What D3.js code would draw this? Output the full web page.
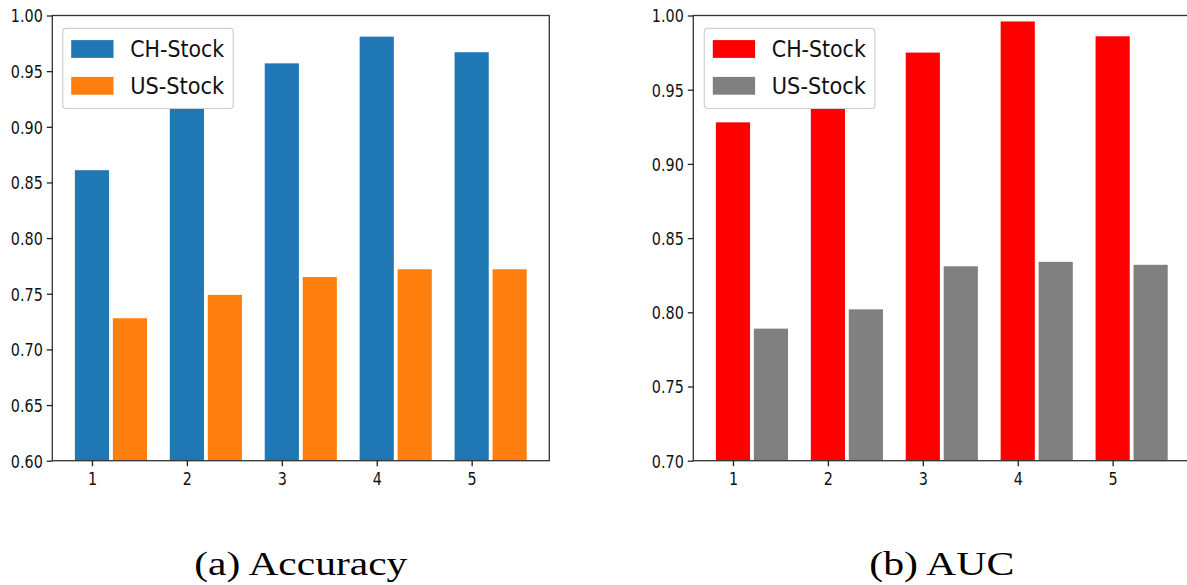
<!DOCTYPE html>
<html>
<head>
<meta charset="utf-8">
<script src="https://cdn.jsdelivr.net/npm/d3@7"></script>
<style>
  html, body { margin: 0; padding: 0; background: #fff; }
  svg { display: block; }
  .tick text { font-family: "DejaVu Sans", sans-serif; }
</style>
</head>
<body>
<svg id="fig" width="1187" height="585"></svg>
<script>
// Runs on the x axis
const runs = [1, 2, 3, 4, 5];
const seriesNames = ["CH-Stock", "US-Stock"];

// (a) Accuracy per run
const accCH = [0.861, 0.935, 0.957, 0.981, 0.967];
const accUS = [0.728, 0.749, 0.765, 0.772, 0.772];

// (b) AUC per run
const aucCH = [0.928, 0.955, 0.975, 0.996, 0.986];
const aucUS = [0.789, 0.802, 0.831, 0.834, 0.832];

// Axis ticks
const accTicks = [0.60, 0.65, 0.70, 0.75, 0.80, 0.85, 0.90, 0.95, 1.00];
const aucTicks = [0.70, 0.75, 0.80, 0.85, 0.90, 0.95, 1.00];

const captions = ["(a) Accuracy", "(b) AUC"];

const svg = d3.select("#fig");
const barW = 0.36, offset = 0.4;
const xDomain = [0.582, 5.818];
const TEXT_SQUEEZE = 0.82;

function panel(opts) {
  const { left, right, top, bottom, yDomain, ticks, ch, us, colors, legendX, caption, captionW } = opts;
  const g = svg.append("g");
  const x = d3.scaleLinear().domain(xDomain).range([left, right]);
  const y = d3.scaleLinear().domain(yDomain).range([bottom, top]);

  // bars
  const data = runs.map((r, i) => ({ r, ch: ch[i], us: us[i] }));
  g.selectAll("rect.ch").data(data).join("rect")
    .attr("class", "ch")
    .attr("x", d => x(d.r - barW / 2))
    .attr("width", d => x(d.r + barW / 2) - x(d.r - barW / 2))
    .attr("y", d => y(d.ch))
    .attr("height", d => y(yDomain[0]) - y(d.ch))
    .attr("fill", colors[0]);
  g.selectAll("rect.us").data(data).join("rect")
    .attr("class", "us")
    .attr("x", d => x(d.r + offset - barW / 2))
    .attr("width", d => x(d.r + offset + barW / 2) - x(d.r + offset - barW / 2))
    .attr("y", d => y(d.us))
    .attr("height", d => y(yDomain[0]) - y(d.us))
    .attr("fill", colors[1]);

  // frame
  g.append("rect")
    .attr("x", left).attr("y", top)
    .attr("width", right - left).attr("height", bottom - top)
    .attr("fill", "none").attr("stroke", "#333").attr("stroke-width", 1.3);

  // y axis
  const ya = g.append("g")
    .attr("transform", `translate(${left},0)`)
    .call(d3.axisLeft(y).tickValues(ticks).tickFormat(d3.format(".2f")).tickSize(5.5).tickPadding(4));
  ya.select(".domain").remove();
  ya.selectAll(".tick line").attr("stroke", "#222").attr("stroke-width", 1.3);
  ya.selectAll(".tick text").attr("font-size", 17.5).attr("fill", "#111").attr("dy", "0.36em").classed("sq", true);

  // x axis
  const xa = g.append("g")
    .attr("transform", `translate(0,${bottom})`)
    .call(d3.axisBottom(x).tickValues(runs).tickFormat(d3.format("d")).tickSize(5.5).tickPadding(6));
  xa.select(".domain").remove();
  xa.selectAll(".tick line").attr("stroke", "#222").attr("stroke-width", 1.3);
  xa.selectAll(".tick text").attr("font-size", 17.5).attr("fill", "#111").classed("sq", true);

  // legend
  const lg = g.append("g").attr("transform", `translate(${legendX},28.3)`);
  lg.append("rect")
    .attr("x", 0).attr("y", 0).attr("width", 170.6).attr("height", 80.2)
    .attr("rx", 3.5).attr("fill", "#fff").attr("stroke", "#d0d0d0").attr("stroke-width", 1.2);
  seriesNames.forEach((name, i) => {
    lg.append("rect")
      .attr("x", 8.5).attr("y", 11.8 + i * 36.8)
      .attr("width", 42.3).attr("height", 17.8)
      .attr("fill", colors[i]);
    lg.append("text")
      .attr("x", 67.5).attr("y", 29 + i * 36.8)
      .attr("font-family", "DejaVu Sans, sans-serif")
      .attr("font-size", 22.5).attr("fill", "#111")
      .attr("textLength", 94).attr("lengthAdjust", "spacingAndGlyphs")
      .text(name);
  });

  // caption
  svg.append("text")
    .attr("x", (left + right) / 2).attr("y", 575)
    .attr("text-anchor", "middle")
    .attr("font-family", "Liberation Serif, serif")
    .attr("font-size", 33)
    .attr("fill", "#000")
    .attr("textLength", captionW).attr("lengthAdjust", "spacingAndGlyphs")
    .text(caption);
}

panel({
  left: 52.3, right: 549.3, top: 15.5, bottom: 460.7,
  yDomain: [0.60, 1.00], ticks: accTicks, ch: accCH, us: accUS,
  colors: ["#1f77b4", "#ff7f0e"], legendX: 62.7,
  caption: captions[0], captionW: 213
});

panel({
  left: 693.3, right: 1190.3, top: 15.5, bottom: 460.7,
  yDomain: [0.70, 1.00], ticks: aucTicks, ch: aucCH, us: aucUS,
  colors: ["#ff0000", "#808080"], legendX: 704.3,
  caption: captions[1], captionW: 145
});

// tick labels are set slightly condensed
svg.selectAll("text.sq").each(function () {
  const w = this.getComputedTextLength();
  d3.select(this).attr("textLength", w * TEXT_SQUEEZE).attr("lengthAdjust", "spacingAndGlyphs");
});
</script>
</body>
</html>
